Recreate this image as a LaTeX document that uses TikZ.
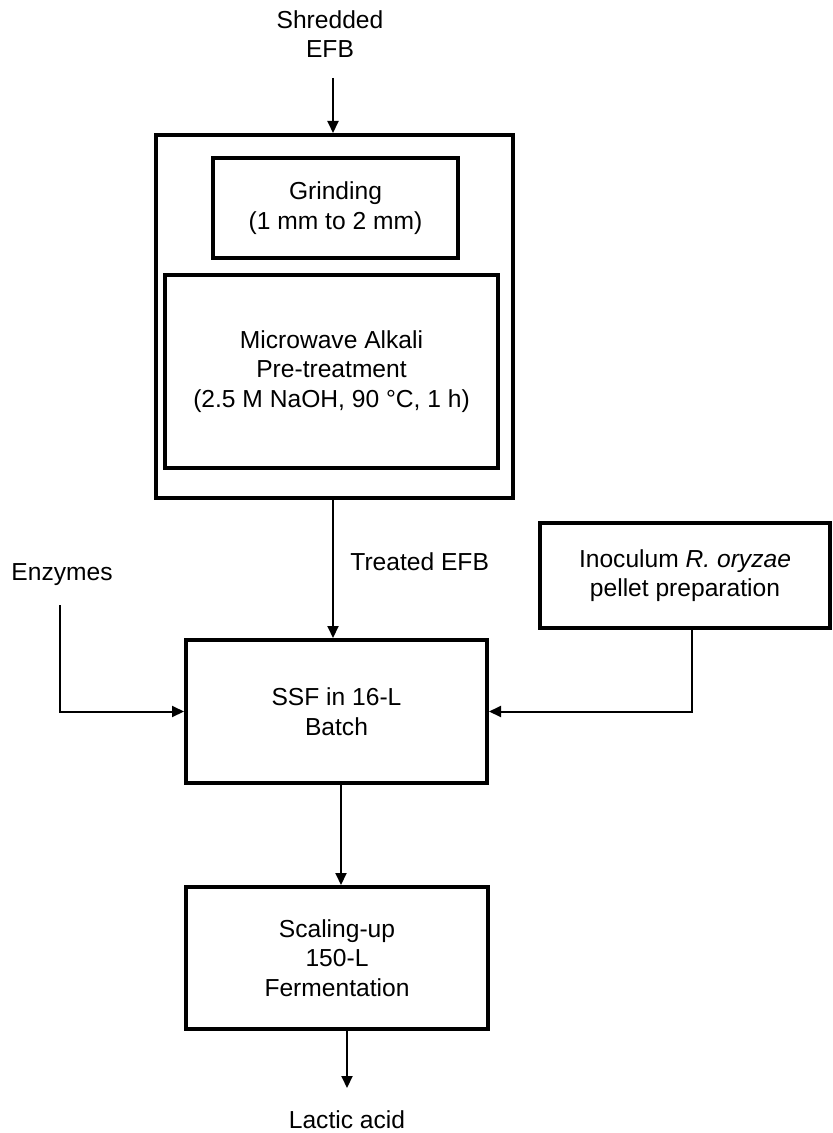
\documentclass[tikz,border=0pt]{standalone}
\usepackage{fontspec}
\setmainfont{Liberation Sans}
\usetikzlibrary{arrows.meta}
\begin{document}
\begin{tikzpicture}[x=0.5pt,y=-0.5pt,
	txt/.style={font=\fontsize{12.3}{14.8}\selectfont, align=center, inner sep=0pt},
	box/.style={txt, draw, line width=2pt},
	arr/.style={line width=1pt, -{Triangle[width=5.5pt,length=6pt]}}]
	\useasboundingbox (0,0) rectangle (832,1133);
	\node[txt] (shred) at (330,34) {Shredded\\EFB};
	\node[box, minimum width=178.5pt, minimum height=181.5pt] (outer) at (334.5,316.5) {};
	\node[box, minimum width=122.5pt, minimum height=50pt] (grind) at (335.5,208) {Grinding\\(1 mm to 2 mm)};
	\node[box, minimum width=166.5pt, minimum height=96.5pt] (micro) at (331.5,371.5) {Microwave Alkali\\Pre-treatment\\(2.5 M NaOH, 90 °C, 1 h)};
	\node[box, minimum width=150.5pt, minimum height=71.5pt] (ssf) at (336.5,711.5) {SSF in 16-L\\Batch};
	\node[box, minimum width=145pt, minimum height=52.5pt] (inoc) at (685,575.5) {Inoculum \textit{R. oryzae}\\pellet preparation};
	\node[box, minimum width=151pt, minimum height=71pt] (scale) at (337,958) {Scaling-up\\150-L\\Fermentation};
	\node[txt] (enz) at (62,575) {Enzymes};
	\node[txt, anchor=west] (treat) at (350,562) {Treated EFB};
	\node[txt] (lactic) at (347,1120) {Lactic acid};
	\coordinate (in) at (333,78);
	\coordinate (enzin) at (60,605);
	\coordinate (out) at (347,1088);
	\draw[arr] (in) -- (in |- outer.north);
	\draw[arr] ([xshift=-0.75pt]outer.south) -- ([xshift=-0.75pt]outer.south |- ssf.north);
	\draw[arr] (enzin) |- (ssf.west);
	\draw[arr] ([xshift=3.5pt]inoc.south) |- (ssf.east);
	\draw[arr] ([xshift=2.25pt]ssf.south) -- ([xshift=2.25pt]ssf.south |- scale.north);
	\draw[arr] (scale.south -| out) -- (out);
\end{tikzpicture}
\end{document}
